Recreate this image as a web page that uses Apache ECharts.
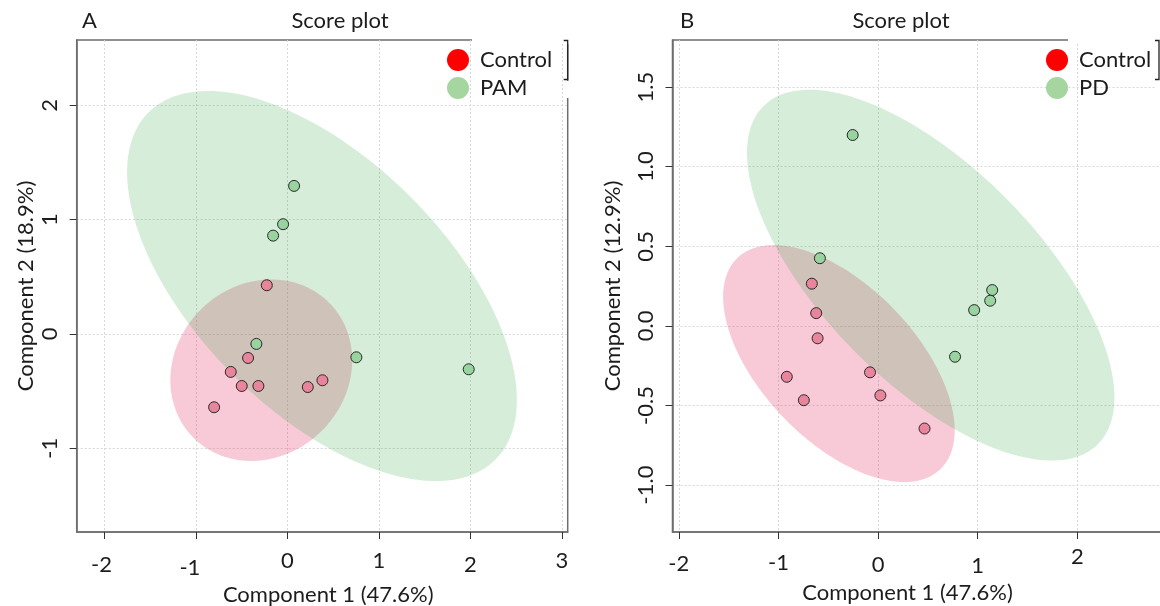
<!DOCTYPE html>
<html>
<head>
<meta charset="utf-8">
<script src="https://cdn.jsdelivr.net/npm/echarts@6/dist/echarts.min.js"></script>
<style>
  html, body { margin: 0; padding: 0; background: #fff; }
  #chart { width: 1160px; height: 606px; }
</style>
</head>
<body>
<div id="chart"></div>
<script>
// ---- Panel A: Control vs PAM (scores on component 1 / component 2) ----
const controlA_x = [-0.225, -0.430, -0.619, -0.499, -0.317, 0.223, 0.383, -0.801];
const controlA_y = [0.426, -0.210, -0.332, -0.455, -0.455, -0.464, -0.405, -0.641];
const pamA_x = [0.073, -0.047, -0.156, -0.339, 0.754, 1.982];
const pamA_y = [1.295, 0.960, 0.860, -0.087, -0.204, -0.309];

// ---- Panel B: Control vs PD ----
const controlB_x = [-0.665, -0.621, -0.607, -0.916, -0.745, -0.081, 0.023, 0.466];
const controlB_y = [0.265, 0.080, -0.078, -0.320, -0.467, -0.292, -0.437, -0.645];
const pdB_x = [-0.255, -0.584, 1.145, 1.125, 0.964, 0.772];
const pdB_y = [1.199, 0.425, 0.225, 0.158, 0.099, -0.194];

// tick positions
const xTicksA = [-2, -1, 0, 1, 2, 3];
const yTicksA = [-1, 0, 1, 2];
const xTicksB = [-2, -1, 0, 1, 2];
const yTicksB = [-1.0, -0.5, 0.0, 0.5, 1.0, 1.5];

// axis extents
const xRangeA = [-2.303, 3.064];
const yRangeA = [-1.732, 2.571];
const xRangeB = [-2.063, 2.854];
const yRangeB = [-1.295, 1.796];

const FONT = 'Lato, "Open Sans", "Noto Sans", sans-serif';
const TEXT = '#1c1c1c';
const FRAME = '#6e6e6e';
const FS = 22;

const CHI2_95 = 5.991; // 95% quantile of chi-square with 2 df

// 95% confidence ellipse of a group, from its mean and sample covariance
function confidenceEllipse(xs, ys, steps) {
  const n = xs.length;
  const mx = xs.reduce((s, v) => s + v, 0) / n;
  const my = ys.reduce((s, v) => s + v, 0) / n;
  let sxx = 0, syy = 0, sxy = 0;
  for (let i = 0; i < n; i++) {
    const dx = xs[i] - mx, dy = ys[i] - my;
    sxx += dx * dx; syy += dy * dy; sxy += dx * dy;
  }
  sxx /= (n - 1); syy /= (n - 1); sxy /= (n - 1);
  const r = Math.sqrt(CHI2_95);
  const l11 = Math.sqrt(sxx);
  const l21 = sxy / l11;
  const l22 = Math.sqrt(Math.max(syy - l21 * l21, 0));
  const pts = [];
  for (let i = 0; i < steps; i++) {
    const t = 2 * Math.PI * i / steps;
    const u = Math.cos(t), v = Math.sin(t);
    pts.push([mx + r * l11 * u, my + r * (l21 * u + l22 * v)]);
  }
  return { center: [mx, my], pts };
}

function regionSeries(name, xs, ys, fill, idx, z) {
  const e = confidenceEllipse(xs, ys, 180);
  return {
    type: 'custom',
    name: name,
    xAxisIndex: idx,
    yAxisIndex: idx,
    silent: true,
    clip: true,
    z: z,
    data: [e.center],
    renderItem: function (params, api) {
      return {
        type: 'polygon',
        shape: { points: e.pts.map(p => api.coord(p)) },
        style: { fill: fill }
      };
    }
  };
}

function pointSeries(name, xs, ys, color, idx) {
  return {
    type: 'scatter',
    name: name,
    xAxisIndex: idx,
    yAxisIndex: idx,
    z: 5,
    symbol: 'circle',
    symbolSize: 11,
    itemStyle: { color: color, borderColor: '#2a2a2a', borderWidth: 1, opacity: 1 },
    data: xs.map((x, i) => [x, ys[i]])
  };
}

const splitLineStyle = { show: true, lineStyle: { color: '#d8d8d8', width: 1, type: [2, 2] } };
const tickStyle = { show: true, inside: false, length: 7, lineStyle: { color: '#333', width: 1 } };

// each x tick label sits at its own small offset (drops: down, nudges: sideways)
function xAxisOf(idx, range, ticks, nameShift, drops, nudges) {
  const rich = {};
  ticks.forEach((t, i) => {
    const dx = nudges[i] || 0;
    rich['k' + i] = {
      fontFamily: FONT, fontSize: FS, color: TEXT,
      padding: [6 + (drops[i] || 0), dx < 0 ? -2 * dx : 0, 0, dx > 0 ? 2 * dx : 0]
    };
  });
  return {
    type: 'value', gridIndex: idx, min: range[0], max: range[1],
    minInterval: 1, maxInterval: 1,
    name: 'Component 1 (47.6%)', nameLocation: 'middle', nameGap: 39,
    nameTextStyle: {
      fontFamily: FONT, fontSize: FS, color: TEXT,
      padding: nameShift > 0 ? [0, 0, 0, 2 * nameShift] : [0, -2 * nameShift, 0, 0]
    },
    axisLine: { show: true, onZero: false, lineStyle: { color: FRAME, width: 1.5 } },
    axisTick: Object.assign({ customValues: ticks }, tickStyle),
    splitLine: splitLineStyle,
    axisLabel: {
      customValues: ticks, margin: 14,
      fontFamily: FONT, fontSize: FS, color: TEXT,
      formatter: function (v) {
        const i = ticks.findIndex(t => Math.abs(t - v) < 1e-9);
        return '{k' + i + '|' + String(v) + '}';
      },
      rich: rich
    }
  };
}

function yAxisOf(idx, range, ticks, name, nameGap, digits) {
  return {
    type: 'value', gridIndex: idx, min: range[0], max: range[1],
    name: name, nameLocation: 'middle', nameGap: nameGap,
    nameTextStyle: { fontFamily: FONT, fontSize: FS, color: TEXT },
    axisLine: { show: true, onZero: false, lineStyle: { color: FRAME, width: 1.5 } },
    axisTick: Object.assign({ customValues: ticks }, tickStyle),
    splitLine: splitLineStyle,
    axisLabel: {
      customValues: ticks, rotate: 90, margin: 16,
      fontFamily: FONT, fontSize: FS, color: TEXT,
      formatter: v => digits ? Number(v).toFixed(digits) : String(v)
    }
  };
}

function legendOf(left, names, colors) {
  return {
    orient: 'vertical', left: left, top: 49, padding: 0,
    icon: 'circle', itemWidth: 22, itemHeight: 22, itemGap: 6,
    selectedMode: false,
    textStyle: { fontFamily: FONT, fontSize: FS, color: TEXT, padding: [0, 0, 0, 6] },
    data: names.map((n, i) => ({ name: n, itemStyle: { color: colors[i], borderWidth: 0 } }))
  };
}

// pieces of white that break the frame behind each legend, and the legend's bracket
function frameBreak(x0, x1) {
  return [
    { type: 'rect', shape: { x: x0, y: 36, width: x1 - x0 + 3, height: 8 }, style: { fill: '#fff' }, z: 50 },
    { type: 'rect', shape: { x: x1 - 4, y: 81, width: 8, height: 17 }, style: { fill: '#fff' }, z: 50 },
    { type: 'polyline', shape: { points: [[x1 - 4, 40.5], [x1, 40.5], [x1, 79.5], [x1 - 4, 79.5]] },
      style: { stroke: '#222', lineWidth: 1.3, fill: null }, z: 51 }
  ];
}

function label(text, x, y, align) {
  return { type: 'text', x: x, y: y, z: 60,
    style: { text: text, fontFamily: FONT, fontSize: FS, fill: TEXT, align: align, verticalAlign: 'middle' } };
}

const chart = echarts.init(document.getElementById('chart'), null, { renderer: 'canvas' });

chart.setOption({
  backgroundColor: '#fff',
  animation: false,
  grid: [
    { left: 76.7, top: 40, width: 491, height: 492, outerBoundsMode: 'none', containLabel: false,
      show: true, borderColor: FRAME, borderWidth: 1.5, backgroundColor: 'transparent' },
    { left: 672.5, top: 40, width: 490, height: 492, outerBoundsMode: 'none', containLabel: false,
      show: true, borderColor: FRAME, borderWidth: 1.5, backgroundColor: 'transparent' }
  ],
  xAxis: [
    xAxisOf(0, xRangeA, xTicksA, 6, [2, 5, -2, -2, 2, -2], [-3, -6, 0, 0, 0, 0]),
    xAxisOf(1, xRangeB, xTicksB, -10, [1, 0, 2, 3, -6], [0, 0, 0, 0, 0])
  ],
  yAxis: [
    yAxisOf(0, yRangeA, yTicksA, 'Component 2 (18.9%)', 40, 0),
    yAxisOf(1, yRangeB, yTicksB, 'Component 2 (12.9%)', 49, 1)
  ],
  legend: [
    legendOf(447, ['Control', 'PAM'], ['#ff0000', '#a6d6a0']),
    legendOf(1046, ['Control', 'PD'], ['#ff0000', '#a6d6a0'])
  ],
  graphic: [].concat(
    frameBreak(472, 567.7),
    frameBreak(1068, 1159),
    [
      label('A', 82, 21, 'left'),
      label('Score plot', 340, 21, 'center'),
      label('B', 680, 21, 'left'),
      label('Score plot', 901, 21, 'center')
    ]
  ),
  series: [
    regionSeries('Control region A', controlA_x, controlA_y, 'rgba(227,43,95,0.25)', 0, 1),
    regionSeries('PAM region', pamA_x, pamA_y, 'rgba(45,165,65,0.2)', 0, 2),
    pointSeries('Control', controlA_x, controlA_y, '#e8849c', 0),
    pointSeries('PAM', pamA_x, pamA_y, '#98d3a0', 0),
    regionSeries('Control region B', controlB_x, controlB_y, 'rgba(227,43,95,0.25)', 1, 1),
    regionSeries('PD region', pdB_x, pdB_y, 'rgba(45,165,65,0.2)', 1, 2),
    pointSeries('Control', controlB_x, controlB_y, '#e8849c', 1),
    pointSeries('PD', pdB_x, pdB_y, '#98d3a0', 1)
  ]
});
</script>
</body>
</html>
